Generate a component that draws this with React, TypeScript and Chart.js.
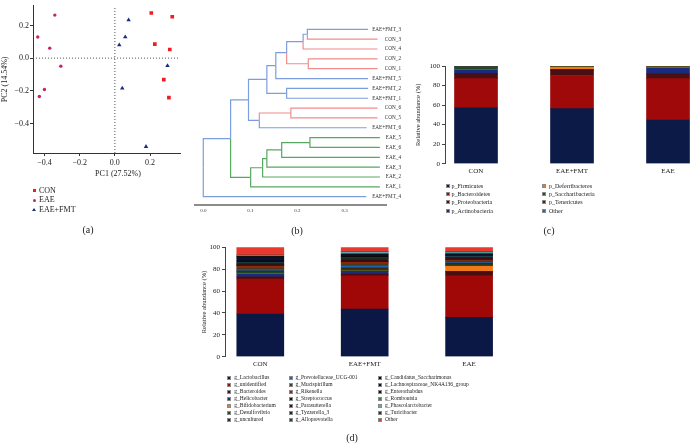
import React, { useEffect, useRef } from 'react';
import { Chart, registerables } from 'chart.js';

Chart.register(...registerables);

const SERIF = '"Liberation Serif", "Times New Roman", Times, serif';
Chart.defaults.font.family = SERIF;
Chart.defaults.color = '#222';

// ---------------- (a) PCoA ----------------
const pcaGroupNames = ['CON', 'EAE', 'EAE+FMT'];
const pcaColors = ['#ee1d23', '#c4226a', '#1d2a7e'];
const pcaShapes = ['rect', 'circle', 'triangle'];
const pcaRadii = [2.6, 1.7, 2.6];
const conPC1 = [0.207, 0.326, 0.227, 0.312, 0.278, 0.307];
const conPC2 = [0.276, 0.253, 0.086, 0.053, -0.131, -0.241];
const eaePC1 = [-0.341, -0.438, -0.37, -0.307, -0.4, -0.429];
const eaePC2 = [0.263, 0.129, 0.061, -0.049, -0.192, -0.235];
const fmtPC1 = [0.078, 0.059, 0.025, 0.299, 0.042, 0.177];
const fmtPC2 = [0.233, 0.129, 0.08, -0.047, -0.184, -0.541];
const pcaXTicks = [-0.4, -0.2, 0, 0.2];
const pcaYTicks = [-0.4, -0.2, 0, 0.2];
const pcaXRange = [-0.465, 0.37];
const pcaYRange = [-0.58, 0.32];
const pc1Title = 'PC1 (27.52%)';
const pc2Title = 'PC2 (14.54%)';

// ---------------- (b) dendrogram ----------------
const leafNames = [
  'EAE+FMT_3', 'CON_3', 'CON_4', 'CON_2', 'CON_1', 'EAE+FMT_5', 'EAE+FMT_2', 'EAE+FMT_1',
  'CON_6', 'CON_5', 'EAE+FMT_6', 'EAE_5', 'EAE_6', 'EAE_4', 'EAE_3', 'EAE_2', 'EAE_1', 'EAE+FMT_4',
];
const leafEnds = [
  0.35, 0.37, 0.37, 0.37, 0.37, 0.35, 0.35, 0.35,
  0.37, 0.37, 0.347, 0.375, 0.375, 0.375, 0.375, 0.375, 0.375, 0.346,
];
// [child a, child b, height]; leaves are 0..17, merged nodes are 18 + merge index
const merges: [number, number, number][] = [
  [0, 1, 0.221], [18, 2, 0.212], [3, 4, 0.223], [19, 20, 0.177], [21, 5, 0.154],
  [6, 7, 0.177], [22, 23, 0.135], [8, 9, 0.186], [25, 10, 0.119], [24, 26, 0.096],
  [11, 12, 0.2265], [28, 13, 0.1665], [29, 14, 0.135], [30, 15, 0.126], [31, 16, 0.1006],
  [27, 32, 0.058], [33, 17, 0.0],
];
const dendroTicks = [0, 0.1, 0.2, 0.3];
const dendroColors: Record<string, string> = {
  CON: 'rgb(242,140,140)',
  EAE: 'rgb(88,168,98)',
  FMT: 'rgb(125,158,222)',
};

// ---------------- (c) phylum ----------------
const groupNames = ['CON', 'EAE+FMT', 'EAE'];
const phylumNames = [
  'p_Firmicutes', 'p_Bacteroidetes', 'p_Proteobacteria', 'p_Actinobacteria',
  'p_Deferribacteres', 'p_Saccharibacteria', 'p_Tenericutes', 'Other',
];
const phylumColors = ['#0c1a48', '#a00909', '#4a0f12', '#1a2a7c', '#f07818', '#1f4a22', '#3c2a10', '#2060b0'];
const phylumCON = [57.3, 29.7, 5.5, 3.5, 0.3, 2.5, 0.7, 0.5];
const phylumFMT = [56.3, 34.0, 5.5, 0.7, 2.3, 0.6, 0.3, 0.3];
const phylumEAE = [44.7, 42.3, 5.0, 6.0, 1.0, 0.4, 0.3, 0.3];

// ---------------- (d) genus ----------------
const genusNames = [
  'g_Lactobacillus', 'g_unidentified', 'g_Bacteroides', 'g_Helicobacter', 'g_Bifidobacterium',
  'g_Desulfovibrio', 'g_uncultured', 'g_Prevotellaceae_UCG-001', 'g_Mucispirillum', 'g_Rikenella',
  'g_Streptococcus', 'g_Parasutterella', 'g_Tyzzerella_3', 'g_Alloprevotella',
  'g_Candidatus_Saccharimonas', 'g_Lachnospiraceae_NK4A136_group', 'g_Enterorhabdus', 'g_Romboutsia',
  'g_Phascolarctobacter', 'g_Turicibacter', 'Other',
];
const genusColors = [
  '#0b1845', '#a00808', '#4a0e12', '#1c2b7a', '#f07a1a', '#1e4a20', '#3a2810',
  '#1f63b5', '#4a3a1c', '#8a2a0a', '#151515', '#3a0a18', '#1a2618', '#1a4448',
  '#0a0a0a', '#0c1030', '#101010', '#2a8a66', '#62a8b8', '#303030', '#e8392e',
];
const genusCON = [39, 32, 2, 2.5, 0.3, 1.5, 1.2, 0.8, 1.5, 2, 0.5, 0.8, 1.5, 0.6, 1.5, 2.5, 1.5, 0.5, 0.3, 0.5, 7];
const genusFMT = [43.5, 30.5, 1.5, 2.5, 0.3, 1, 2, 1.5, 2, 1.5, 0.4, 1.5, 1.5, 0.8, 1.5, 1, 0.8, 0.8, 1, 0.4, 4];
const genusEAE = [36, 38, 3.5, 0.5, 4.5, 1.5, 1.5, 0.8, 1.2, 0.8, 0.5, 1.2, 0.8, 1.2, 0.8, 0.7, 0.5, 1, 0.6, 0.4, 4];

const abundanceTitle = 'Relative abundance (%)';

// ---------------- helpers ----------------
function ChartCanvas({ left, top, width, height, make }: { left: number; top: number; width: number; height: number; make: () => any }) {
  const ref = useRef<HTMLCanvasElement>(null);
  useEffect(() => {
    const chart = new Chart(ref.current as HTMLCanvasElement, make());
    return () => chart.destroy();
  }, []);
  return (
    <div style={{ position: 'absolute', left, top, width, height }}>
      <canvas ref={ref} width={width} height={height} style={{ width, height, display: 'block' }} />
    </div>
  );
}

function Txt({ x, y, size, children, center = true }: { x: number; y: number; size: number; children: any; center?: boolean }) {
  return (
    <div
      style={{
        position: 'absolute', left: x, top: y, fontSize: size, lineHeight: 1, fontFamily: SERIF, color: '#222',
        whiteSpace: 'nowrap', transform: center ? 'translate(-50%,-50%)' : 'translate(0,-50%)',
      }}
    >
      {children}
    </div>
  );
}

function SquareLegend({ names, colors, cols, y0, dy, size, box }: {
  names: string[]; colors: string[]; cols: { sq: number; tx: number; n: number }[]; y0: number; dy: number; size: number; box: number;
}) {
  const items: any[] = [];
  let k = 0;
  cols.forEach((c) => {
    for (let r = 0; r < c.n && k < names.length; r++, k++) {
      const y = y0 + r * dy;
      items.push(
        <div key={'s' + k} style={{
          position: 'absolute', left: c.sq, top: y - box / 2, width: box, height: box, boxSizing: 'border-box',
          background: colors[k], border: '0.8px solid #8a8a8a',
        }} />,
        <Txt key={'t' + k} x={c.tx} y={y} size={size} center={false}>{names[k]}</Txt>,
      );
    }
  });
  return <>{items}</>;
}

const fixedTicks = (vals: number[]) => (s: any) => { s.ticks = vals.map((v) => ({ value: v })); };
const fmtSigned = (v: any) => (Number(v) < 0 ? '\u2212' : '') + Math.abs(Number(v)).toFixed(1);

// ---------------- configs ----------------
function makePCA() {
  const pcs = [[conPC1, conPC2], [eaePC1, eaePC2], [fmtPC1, fmtPC2]];
  const pointSets = pcaGroupNames.map((name, g) => ({
    type: 'scatter',
    label: name,
    data: pcs[g][0].map((x, i) => ({ x, y: pcs[g][1][i] })),
    pointStyle: pcaShapes[g],
    pointRadius: pcaRadii[g],
    backgroundColor: pcaColors[g],
    borderColor: pcaColors[g],
    pointBorderWidth: 0,
  }));
  const zeroLine = (pts: { x: number; y: number }[]) => ({
    type: 'scatter', data: pts, showLine: true, pointRadius: 0, borderColor: '#555', borderWidth: 1, borderDash: [1, 2],
  });
  return {
    type: 'scatter',
    data: {
      datasets: [
        zeroLine([{ x: 0, y: pcaYRange[0] }, { x: 0, y: pcaYRange[1] }]),
        zeroLine([{ x: pcaXRange[0], y: 0 }, { x: pcaXRange[1], y: 0 }]),
        ...pointSets,
      ],
    },
    options: {
      responsive: false, animation: false,
      layout: { padding: { left: 0, right: 20, top: 0, bottom: 0 } },
      plugins: { legend: { display: false }, tooltip: { enabled: false } },
      scales: {
        x: {
          type: 'linear', min: pcaXRange[0], max: pcaXRange[1],
          afterBuildTicks: fixedTicks(pcaXTicks), afterFit: (s: any) => { s.height = 32; },
          ticks: { font: { size: 8 }, padding: 2, callback: fmtSigned, color: '#222' },
          grid: { display: true, drawOnChartArea: false, drawTicks: true, tickLength: 3, color: '#333' },
          border: { display: true, color: '#333', width: 1 },
        },
        y: {
          type: 'linear', min: pcaYRange[0], max: pcaYRange[1],
          afterBuildTicks: fixedTicks(pcaYTicks), afterFit: (s: any) => { s.width = 33; },
          ticks: { font: { size: 8 }, padding: 1, callback: fmtSigned, color: '#222' },
          grid: { display: true, drawOnChartArea: false, drawTicks: true, tickLength: 3, color: '#333' },
          border: { display: true, color: '#333', width: 1 },
          title: { display: true, text: pc2Title, font: { size: 8 }, padding: { top: 0, bottom: 0 }, color: '#222' },
        },
      },
    },
  };
}

function groupOf(name: string) {
  if (name.startsWith('EAE+FMT')) return 'FMT';
  if (name.startsWith('EAE')) return 'EAE';
  return 'CON';
}

function makeDendro() {
  type Node = { x: number; y: number; leaves: number[] };
  const nodes: Node[] = leafNames.map((_, i) => ({ x: leafEnds[i], y: i, leaves: [i] }));
  const edges: { p: Node; c: Node }[] = [];
  merges.forEach(([a, b, h]) => {
    const A = nodes[a];
    const B = nodes[b];
    const n: Node = { x: h, y: (A.y + B.y) / 2, leaves: [...A.leaves, ...B.leaves] };
    edges.push({ p: n, c: A }, { p: n, c: B });
    nodes.push(n);
  });
  const colorOf = (leaves: number[]) => {
    const gs = new Set(leaves.map((i) => groupOf(leafNames[i])));
    return gs.size === 1 ? dendroColors[[...gs][0]] : dendroColors.FMT;
  };
  const datasets = edges.map(({ p, c }) => ({
    data: [{ x: p.x, y: p.y }, { x: p.x, y: c.y }, { x: c.x, y: c.y }],
    showLine: true, pointRadius: 0, borderColor: colorOf(c.leaves), borderWidth: 1.2,
  }));
  const leafLabels = {
    id: 'leafLabels',
    afterDatasetsDraw(chart: any) {
      const { ctx, chartArea, scales } = chart;
      ctx.save();
      ctx.font = `5.2px ${SERIF}`;
      ctx.fillStyle = '#333';
      ctx.textAlign = 'right';
      ctx.textBaseline = 'middle';
      leafNames.forEach((n, i) => ctx.fillText(n, chartArea.right + 15, scales.y.getPixelForValue(i)));
      ctx.restore();
    },
  };
  return {
    type: 'scatter',
    data: { datasets },
    plugins: [leafLabels],
    options: {
      responsive: false, animation: false,
      layout: { padding: { left: 5, right: 16, top: 0, bottom: 0 } },
      plugins: { legend: { display: false }, tooltip: { enabled: false } },
      scales: {
        x: {
          type: 'linear', min: -0.0176, max: 0.388,
          afterBuildTicks: fixedTicks(dendroTicks), afterFit: (s: any) => { s.height = 35; },
          ticks: { font: { size: 5 }, padding: 3, callback: (v: any) => Number(v).toFixed(1), color: '#333' },
          grid: { display: true, drawOnChartArea: false, drawTicks: false },
          border: { display: true, color: '#8c8c8c', width: 2 },
        },
        y: { type: 'linear', display: false, reverse: true, min: -2.976, max: 17.843 },
      },
    },
  };
}

function makeStacked(names: string[], colors: string[], byGroup: number[][], opts: {
  xmin: number; xmax: number; bar: number; padLeft: number; padTop: number; yWidth: number; xHeight: number; titlePad: number;
}) {
  return {
    type: 'bar',
    data: {
      datasets: names.map((n, k) => ({
        label: n,
        data: groupNames.map((_, i) => ({ x: i, y: byGroup[i][k] })),
        backgroundColor: colors[k],
        borderWidth: 0,
        barThickness: opts.bar,
      })),
    },
    options: {
      responsive: false, animation: false,
      layout: { padding: { left: opts.padLeft, right: 0, top: opts.padTop, bottom: 0 } },
      plugins: { legend: { display: false }, tooltip: { enabled: false } },
      scales: {
        x: {
          type: 'linear', stacked: true, offset: false, min: opts.xmin, max: opts.xmax,
          afterBuildTicks: fixedTicks(groupNames.map((_, i) => i)),
          afterFit: (s: any) => { s.height = opts.xHeight; },
          ticks: { font: { size: 7 }, padding: 3, callback: (v: any) => groupNames[Number(v)], color: '#222' },
          grid: { display: false, drawTicks: false, offset: false },
          border: { display: false },
        },
        y: {
          type: 'linear', stacked: true, min: 0, max: 100,
          afterFit: (s: any) => { s.width = opts.yWidth; },
          ticks: { stepSize: 20, font: { size: 7 }, padding: 2, color: '#222' },
          grid: { display: true, drawOnChartArea: false, drawTicks: true, tickLength: 3, color: '#444' },
          border: { display: true, color: '#444', width: 1 },
          title: { display: true, text: abundanceTitle, font: { size: 6.5 }, padding: { top: opts.titlePad, bottom: 0 }, color: '#222' },
        },
      },
    },
  };
}

export default function App() {
  const legendA = pcaGroupNames.map((n, g) => {
    const y = 190.5 + g * 9.5;
    let marker: any;
    if (pcaShapes[g] === 'rect') {
      marker = <div style={{ position: 'absolute', left: 32.5, top: y - 1.8, width: 3.6, height: 3.6, background: pcaColors[g] }} />;
    } else if (pcaShapes[g] === 'circle') {
      marker = <div style={{ position: 'absolute', left: 32.8, top: y - 1.5, width: 3, height: 3, borderRadius: '50%', background: pcaColors[g] }} />;
    } else {
      marker = <div style={{ position: 'absolute', left: 32.3, top: y - 2, width: 0, height: 0, borderLeft: '2px solid transparent', borderRight: '2px solid transparent', borderBottom: `3.6px solid ${pcaColors[g]}` }} />;
    }
    return (
      <React.Fragment key={n}>
        {marker}
        <Txt x={39} y={y} size={8} center={false}>{n}</Txt>
      </React.Fragment>
    );
  });

  return (
    <div style={{ position: 'absolute', left: 0, top: 0, width: 690, height: 444, overflow: 'hidden', background: '#fff' }}>
      <ChartCanvas left={0} top={0} width={200} height={185} make={makePCA} />
      <Txt x={118} y={174} size={8}>{pc1Title}</Txt>
      {legendA}
      <Txt x={88} y={229.5} size={10}>(a)</Txt>

      <ChartCanvas left={190} top={0} width={212} height={240} make={makeDendro} />
      <Txt x={297} y={231} size={10}>(b)</Txt>

      <ChartCanvas
        left={400} top={55} width={290} height={125}
        make={() => makeStacked(phylumNames, phylumColors, [phylumCON, phylumFMT, phylumEAE], {
          xmin: -0.323, xmax: 2.229, bar: 43, padLeft: 12, padTop: 11, yWidth: 33, xHeight: 16.3, titlePad: 2,
        })}
      />
      <SquareLegend
        names={phylumNames} colors={phylumColors}
        cols={[{ sq: 445.5, tx: 451.5, n: 4 }, { sq: 542, tx: 549, n: 4 }]}
        y0={185.7} dy={8.33} size={6} box={4}
      />
      <Txt x={549} y={231} size={10}>(c)</Txt>

      <ChartCanvas
        left={200} top={240} width={300} height={130}
        make={() => makeStacked(genusNames, genusColors, [genusCON, genusFMT, genusEAE], {
          xmin: -0.338, xmax: 2.296, bar: 47, padLeft: 0, padTop: 7.3, yWidth: 25, xHeight: 13.3, titlePad: 0,
        })}
      />
      <SquareLegend
        names={genusNames} colors={genusColors}
        cols={[{ sq: 227.3, tx: 234.3, n: 7 }, { sq: 289.3, tx: 295.5, n: 7 }, { sq: 378.3, tx: 385, n: 7 }]}
        y0={378.3} dy={6.95} size={5.5} box={4}
      />
      <Txt x={352} y={438} size={10}>(d)</Txt>
    </div>
  );
}
